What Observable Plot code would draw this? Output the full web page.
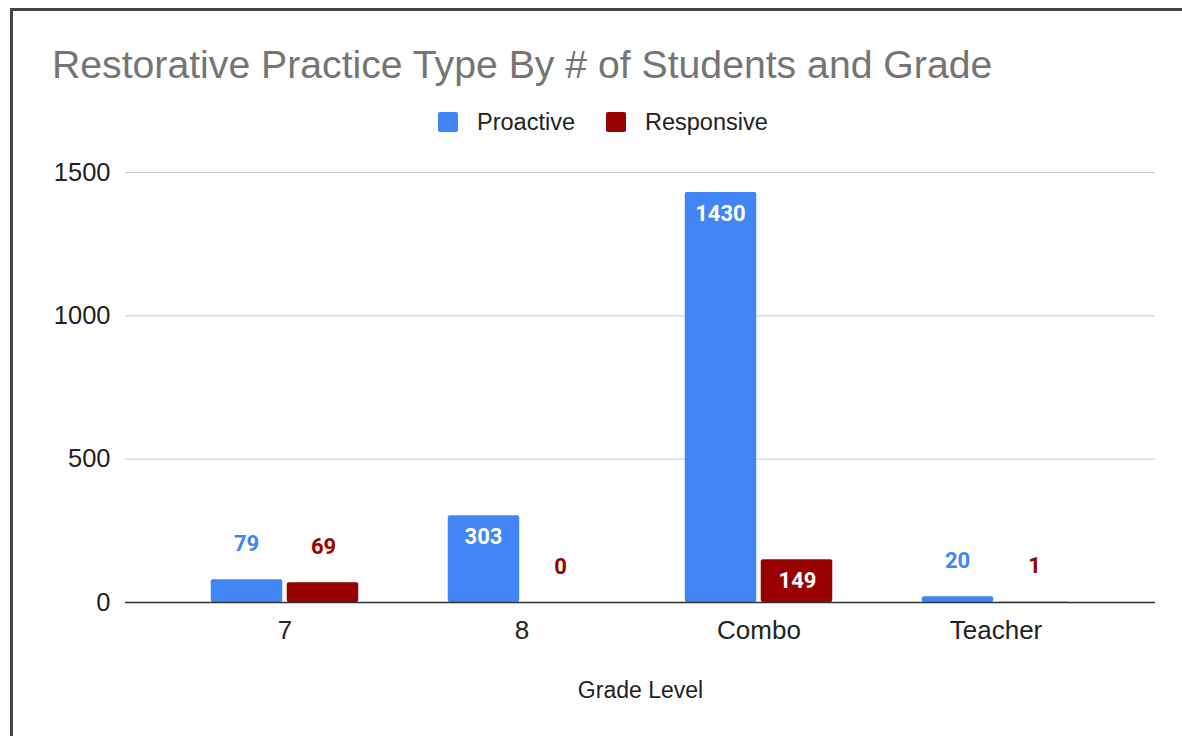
<!DOCTYPE html>
<html>
<head>
<meta charset="utf-8">
<script src="https://cdn.jsdelivr.net/npm/d3@7"></script>
<script src="https://cdn.jsdelivr.net/npm/@observablehq/plot@0.6"></script>
<style>
  html, body { margin: 0; padding: 0; background: #fff; width: 1182px; height: 736px; overflow: hidden; }
  body { position: relative; font-family: "Liberation Sans", Arial, sans-serif; }
  #frame { position: absolute; left: 10px; top: 8px; width: 1300px; height: 900px;
           border-top: 3px solid #444; border-left: 3px solid #444; box-sizing: border-box; }
  #title { position: absolute; left: 52px; top: 42px; font-size: 39.2px; color: #757575; white-space: nowrap; line-height: 46px; }
  #legend { position: absolute; left: 438px; top: 108px; display: flex; align-items: center; font-size: 23.5px; color: #222; line-height: 28px; }
  .sw { width: 20px; height: 20px; border-radius: 2px; display: inline-block; margin-right: 19px; }
  .item { display: flex; align-items: center; margin-right: 31px; }
  #chart { position: absolute; left: 0; top: 140px; }
</style>
</head>
<body>
<div id="frame"></div>
<div id="title"></div>
<div id="legend"></div>
<div id="chart"></div>
<script>
const title = "Restorative Practice Type By # of Students and Grade";
const categories = ["7", "8", "Combo", "Teacher"];
const seriesNames = ["Proactive", "Responsive"];
const seriesColors = ["#4285F4", "#990000"];
const proactive = [79, 303, 1430, 20];
const responsive = [69, 0, 149, 1];
const yTicks = [0, 500, 1000, 1500];
const xLabel = "Grade Level";

document.getElementById("title").textContent = title;
const legend = document.getElementById("legend");
seriesNames.forEach((s, i) => {
  const it = document.createElement("div");
  it.className = "item";
  const sw = document.createElement("span");
  sw.className = "sw";
  sw.style.background = seriesColors[i];
  it.appendChild(sw);
  it.appendChild(document.createTextNode(s));
  legend.appendChild(it);
});

const data = [];
categories.forEach((c, i) => {
  data.push({category: c, series: seriesNames[0], value: proactive[i]});
  data.push({category: c, series: seriesNames[1], value: responsive[i]});
});
const pro = data.filter(d => d.series === seriesNames[0]);
const res = data.filter(d => d.series === seriesNames[1]);
const inside = d => d.value >= 140;

const font = "Liberation Sans, Arial, sans-serif";
const labelFont = "Roboto, Liberation Sans, Arial, sans-serif";

const chart = Plot.plot({
  width: 1182,
  height: 596,
  marginLeft: 125,
  marginRight: 27,
  marginTop: 32,
  marginBottom: 134,
  style: {fontFamily: font, background: "transparent", overflow: "visible"},
  x: {domain: categories, padding: 0, insetLeft: 40, insetRight: 40},
  y: {domain: [0, 1500]},
  marks: [
    Plot.ruleY(yTicks.filter(t => t > 0), {stroke: "#cccccc", strokeWidth: 1}),
    Plot.barY(pro, {x: "category", y: "value", fill: seriesColors[0], insetLeft: 44.75, insetRight: 120.75, rx: 2}),
    Plot.barY(res, {x: "category", y: "value", fill: seriesColors[1], insetLeft: 120.75, insetRight: 44.75, rx: 2}),
    Plot.ruleY([0], {stroke: "#333", strokeWidth: 1.5}),
    Plot.text(pro, {x: "category", y: "value", text: d => String(d.value), dx: -38.5,
      fill: "white", fontSize: 22, fontWeight: "bold", fontFamily: labelFont, filter: inside, dy: 21}),
    Plot.text(pro, {x: "category", y: "value", text: d => String(d.value), dx: -38.5,
      fill: seriesColors[0], fontSize: 22, fontWeight: "bold", fontFamily: labelFont,
      filter: d => !inside(d), dy: -36}),
    Plot.text(res, {x: "category", y: "value", text: d => String(d.value), dx: 38.5,
      fill: "white", fontSize: 22, fontWeight: "bold", fontFamily: labelFont, filter: inside, dy: 21}),
    Plot.text(res, {x: "category", y: "value", text: d => String(d.value), dx: 38.5,
      fill: seriesColors[1], fontSize: 22, fontWeight: "bold", fontFamily: labelFont,
      filter: d => !inside(d), dy: -36}),
    Plot.axisY({ticks: yTicks, tickFormat: d => String(d), tickSize: 0, tickPadding: 15, fontSize: 25.5, label: null, color: "#222"}),
    Plot.axisX({tickSize: 0, tickPadding: 18, fontSize: 26, label: null, color: "#222"}),
    Plot.text([xLabel], {frameAnchor: "bottom", lineAnchor: "middle", dy: 88, fontSize: 23, fill: "#222", fontFamily: font})
  ]
});
document.getElementById("chart").appendChild(chart);
</script>
</body>
</html>
